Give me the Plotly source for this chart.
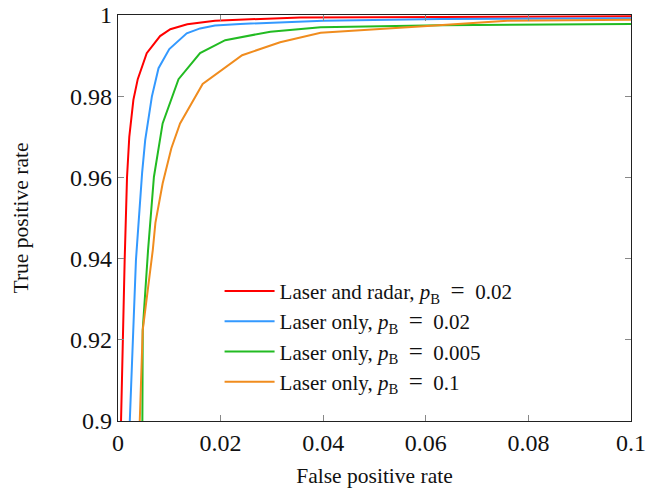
import plotly.graph_objects as go

# Data (false positive rate, true positive rate)
red_fpr = [0.0005, 0.00059, 0.0013, 0.00176, 0.0022, 0.0030, 0.00385, 0.0056, 0.0082, 0.0102, 0.0135, 0.0189, 0.0355, 0.1]
red_tpr = [0.85, 0.9, 0.9397, 0.9601, 0.9700, 0.9791, 0.9842, 0.9906, 0.9948, 0.9965, 0.9977, 0.9986, 0.9994, 0.9997]

blue_fpr = [0.0022, 0.0023, 0.0035, 0.0047, 0.0053, 0.0066, 0.0079, 0.0100, 0.0134, 0.0160, 0.0189, 0.0238, 0.0400, 0.0629, 0.1]
blue_tpr = [0.85, 0.9, 0.9397, 0.9611, 0.9692, 0.9799, 0.9869, 0.9916, 0.9955, 0.9967, 0.9974, 0.9978, 0.9986, 0.9990, 0.9992]

green_fpr = [0.0046, 0.0047, 0.00482, 0.00586, 0.0070, 0.0087, 0.0118, 0.0160, 0.0209, 0.0297, 0.0395, 0.0629, 0.1]
green_tpr = [0.85, 0.9, 0.9224, 0.9421, 0.9601, 0.9733, 0.9842, 0.9906, 0.9938, 0.9959, 0.9970, 0.9975, 0.9978]

orange_fpr = [0.0040, 0.00424, 0.00482, 0.00678, 0.00729, 0.0087, 0.0104, 0.0121, 0.0165, 0.0242, 0.0316, 0.0395, 0.0603, 0.0759, 0.1]
orange_tpr = [0.85, 0.9, 0.9224, 0.9421, 0.9488, 0.9585, 0.9672, 0.9733, 0.9830, 0.9901, 0.9933, 0.9956, 0.9973, 0.9986, 0.9988]

eq = "&#8194;<span style='font-size:25px'>=</span>&#8194;"
series_names = [
    "Laser and radar, <i>p</i><sub>B</sub>" + eq + "0.02",
    "Laser only, <i>p</i><sub>B</sub>" + eq + "0.02",
    "Laser only, <i>p</i><sub>B</sub>" + eq + "0.005",
    "Laser only, <i>p</i><sub>B</sub>" + eq + "0.1",
]
series_colors = ["#ff0000", "#3399ff", "#22bb22", "#f08c1e"]

x_ticks = [0, 0.02, 0.04, 0.06, 0.08, 0.1]
x_tick_labels = ["0", "0.02", "0.04", "0.06", "0.08", "0.1"]
y_ticks = [0.9, 0.92, 0.94, 0.96, 0.98, 1.0]
y_tick_labels = ["0.9", "0.92", "0.94", "0.96", "0.98", "1"]

serif = "Liberation Serif, Times New Roman, serif"

fig = go.Figure()
for i, (xs, ys) in enumerate([(red_fpr, red_tpr), (blue_fpr, blue_tpr),
                               (green_fpr, green_tpr), (orange_fpr, orange_tpr)]):
    fig.add_trace(go.Scatter(
        x=xs, y=ys, mode="lines", name=series_names[i],
        line=dict(color=series_colors[i], width=2),
    ))

axis_common = dict(
    showgrid=False, zeroline=False, automargin=False,
    showline=True, linecolor="#222222", linewidth=1.3,
    mirror="ticks", ticks="inside", ticklen=6, tickcolor="#888888", tickwidth=1,
    tickfont=dict(family=serif, size=24, color="#111111"),
)

fig.update_xaxes(
    range=[0, 0.1], tickvals=x_ticks, ticktext=x_tick_labels,
    title=dict(text="False positive rate", font=dict(family=serif, size=21.5, color="#111111"), standoff=12),
    **axis_common,
)
fig.update_yaxes(
    range=[0.9, 1.0], tickvals=y_ticks, ticktext=y_tick_labels,
    title=dict(text="True positive rate", font=dict(family=serif, size=21.5, color="#111111"), standoff=35),
    **axis_common,
)

fig.update_layout(
    width=670, height=493,
    margin=dict(l=118, r=39, t=15, b=72),
    plot_bgcolor="white", paper_bgcolor="white",
    showlegend=True,
    legend=dict(
        x=0.198, y=0.37, xanchor="left", yanchor="top",
        font=dict(family=serif, size=21, color="#111111"),
        bgcolor="rgba(255,255,255,0)", borderwidth=0,
        tracegroupgap=0, itemwidth=50,
    ),
)

fig.write_html("out.html", config={"displayModeBar": False},
               post_script="document.body.style.margin='0';")
